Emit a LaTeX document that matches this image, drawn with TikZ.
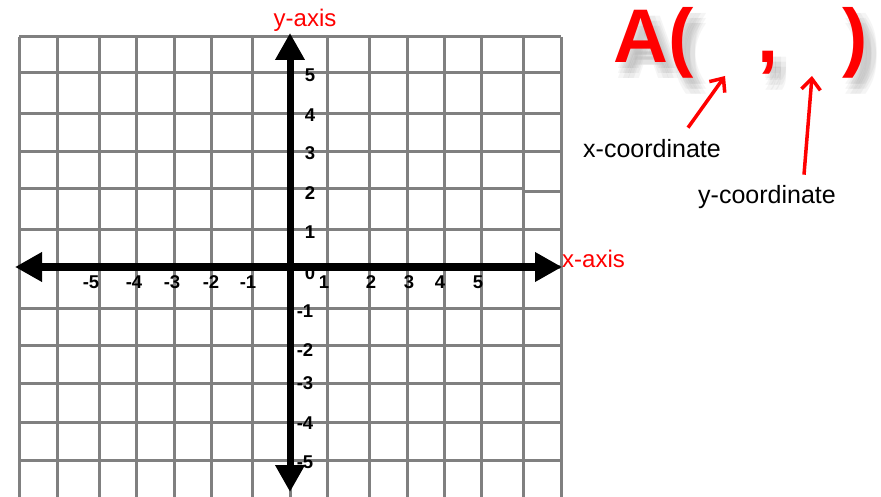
\documentclass[tikz,border=0pt]{standalone}
\usepackage{fontspec}
\setmainfont{Liberation Sans}
\usetikzlibrary{arrows.meta}

\definecolor{red}{HTML}{FF0000}
\definecolor{gridgray}{HTML}{808080}
\definecolor{shadowgray}{HTML}{707070}
\tikzstyle{gridline} = [gridgray, line width=3pt]
\tikzstyle{axis} = [line width=7pt, arrows={Triangle[length=27pt,width=28pt]-Triangle[length=27pt,width=28pt]}]
\tikzstyle{tick} = [font=\fontsize{18.5}{18.5}\selectfont\bfseries, inner sep=0pt]
\tikzstyle{axislabel} = [red, font=\fontsize{24}{24}\selectfont, inner sep=0pt, anchor=base]
\tikzstyle{big} = [red, font=\fontsize{76}{76}\selectfont\bfseries, inner sep=0pt, anchor=base west]
\tikzstyle{shadow} = [big, text=shadowgray, text opacity=0.07]
\tikzstyle{coordlabel} = [font=\fontsize{25}{25}\selectfont, inner sep=0pt, anchor=base]
\tikzstyle{pointer} = [red, line width=3.5pt, -{Straight Barb[length=11pt,width=19pt]}]

\begin{document}
\begin{tikzpicture}[x=1pt, y=-1pt]
\useasboundingbox (0,0) rectangle (881,497);

% grid
\foreach \gx in {19,57,99,136,174,211,252,290,327,369,407,444,481,523,561}
	\draw[gridline] (\gx,37) -- (\gx,497);
\foreach \gy in {37,73,114,152,230,267,308,345,383,422,460}
	\draw[gridline] (19,\gy) -- (561,\gy);
\draw[gridline] (19,189) -- (523,189);
\draw[gridline] (523,192) -- (561,192);

% tick labels
\foreach \t/\px in {-5/91,-4/134,-3/172,-2/211,-1/248,1/324,2/371,3/409,4/440,5/478}
	\node[tick] (xt\t) at (\px,282) {\t};
\foreach \t/\py in {5/75,4/115,3/153,2/193,1/232}
	\node[tick] (yt\t) at (310,\py) {\t};
\foreach \t/\py in {-1/311,-2/350,-3/383,-4/423,-5/462}
	\node[tick] (yt\t) at (305,\py) {\t};
\node[tick] (zero) at (310,273) {0};

% axes
\coordinate (xleft) at (15,267);
\coordinate (xright) at (562,267);
\coordinate (ytop) at (290,33);
\coordinate (ybottom) at (290,492);
\draw[axis] (xleft) -- (xright);
\draw[axis] (ybottom) -- (ytop);
\node[axislabel] (ylab) at (305,27) {y-axis};
\node[axislabel, anchor=base west] (xlab) at (562,267) {x-axis};

% A( , ) with its shadow
\foreach \dx in {3,8,13}
	\foreach \dy in {6,11,16} {
		\node[shadow] (sA\dx\dy) at (613+\dx,63+\dy) {A(};
		\node[shadow] (sc\dx\dy) at (757+\dx,63+\dy) {,};
		\node[shadow] (sk\dx\dy) at (842+\dx,63+\dy) {)};
	}
\node[big] (Aopen) at (613,63) {A(};
\node[big] (comma) at (757,63) {,};
\node[big] (close) at (842,63) {)};

\coordinate (xgap) at (725,76);
\coordinate (ygap) at (812,76);
\node[coordlabel] (xcoord) at (652,158) {x-coordinate};
\node[coordlabel] (ycoord) at (767,204) {y-coordinate};
\draw[pointer] ([xshift=36pt,yshift=12pt]xcoord.north) -- (xgap);
\draw[pointer] ([xshift=37pt,yshift=11pt]ycoord.north) -- (ygap);
\end{tikzpicture}
\end{document}
